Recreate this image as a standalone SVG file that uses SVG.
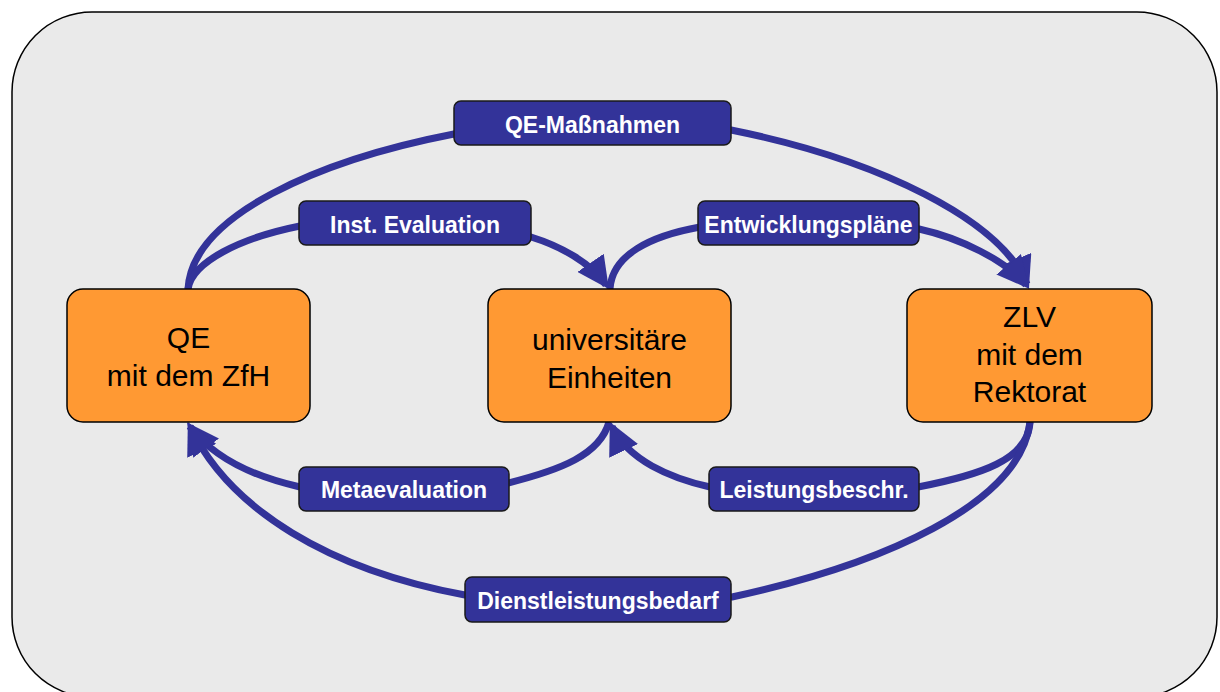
<svg xmlns="http://www.w3.org/2000/svg" width="1220" height="692" viewBox="0 0 1220 692">
<style>
.panel{fill:#eaeaea;stroke:#000;stroke-width:1.5}
.node rect{fill:#ff9933;stroke:#000;stroke-width:1.5}
.node text{font-family:"Liberation Sans",Arial,sans-serif;font-size:30px;fill:#000;text-anchor:middle}
.lbl rect{fill:#333399;stroke:#1a1a1a;stroke-width:1.5}
.lbl text{font-family:"Liberation Sans",Arial,sans-serif;font-size:23px;font-weight:bold;fill:#fff;text-anchor:middle}
.conn path{fill:none;stroke:#333399;stroke-width:7}
.arr{marker-end:url(#head)}
</style>
<defs>
<marker id="head" markerUnits="userSpaceOnUse" viewBox="0 0 32 32" markerWidth="32" markerHeight="32" refX="27" refY="16" orient="auto">
<path d="M0,0 L32,16 L0,32 z" fill="#333399"/>
</marker>
</defs>
<rect class="panel" x="12" y="12" width="1205" height="685" rx="80" ry="80"/>
<g id="connectors" class="conn">
<path class="arr" d="M188,289 C192,215 320,160 454,134 L731,130 C880,160 1000,220 1027,284"/>
<path class="arr" d="M188,289 C192,262 240,238 300,226 L531,237 C560,246 590,262 606,285"/>
<path class="arr" d="M610,289 C612,255 650,236 700,227 L919,229 C960,238 1005,260 1026,285"/>
<path class="arr" d="M609,422 C600,455 560,470 508,483 L300,487 C260,478 215,460 190,426.5"/>
<path class="arr" d="M1030,422 C1028,460 980,475 918,487 L710,487 C670,478 628,460 612,426.5"/>
<path class="arr" d="M1030,422 C1020,505 880,565 732,597 L465,595 C330,570 230,510 190,426.5"/>
</g>
<g id="node-qe" class="node">
<rect x="67" y="289" width="243" height="133" rx="16"/>
<text x="188.5" y="348">QE</text>
<text x="188.5" y="386">mit dem ZfH</text>
</g>
<g id="node-uni" class="node">
<rect x="488" y="289" width="243" height="133" rx="16"/>
<text x="609.5" y="350">universitäre</text>
<text x="609.5" y="388">Einheiten</text>
</g>
<g id="node-zlv" class="node">
<rect x="907" y="289" width="245" height="133" rx="16"/>
<text x="1029.5" y="327">ZLV</text>
<text x="1029.5" y="365">mit dem</text>
<text x="1029.5" y="402">Rektorat</text>
</g>
<g id="label-qe-massnahmen" class="lbl">
<rect x="454" y="101" width="277" height="44" rx="7"/>
<text x="592.5" y="133">QE-Maßnahmen</text>
</g>
<g id="label-inst-evaluation" class="lbl">
<rect x="299" y="201" width="232" height="44" rx="7"/>
<text x="415" y="233">Inst. Evaluation</text>
</g>
<g id="label-entwicklungsplaene" class="lbl">
<rect x="698" y="201" width="221" height="44" rx="7"/>
<text x="808.5" y="233">Entwicklungspläne</text>
</g>
<g id="label-metaevaluation" class="lbl">
<rect x="299" y="467" width="210" height="44" rx="7"/>
<text x="404" y="498">Metaevaluation</text>
</g>
<g id="label-leistungsbeschr" class="lbl">
<rect x="709" y="467" width="210" height="44" rx="7"/>
<text x="814" y="498">Leistungsbeschr.</text>
</g>
<g id="label-dienstleistungsbedarf" class="lbl">
<rect x="465" y="577" width="266" height="45" rx="7"/>
<text x="598" y="609">Dienstleistungsbedarf</text>
</g>
</svg>
